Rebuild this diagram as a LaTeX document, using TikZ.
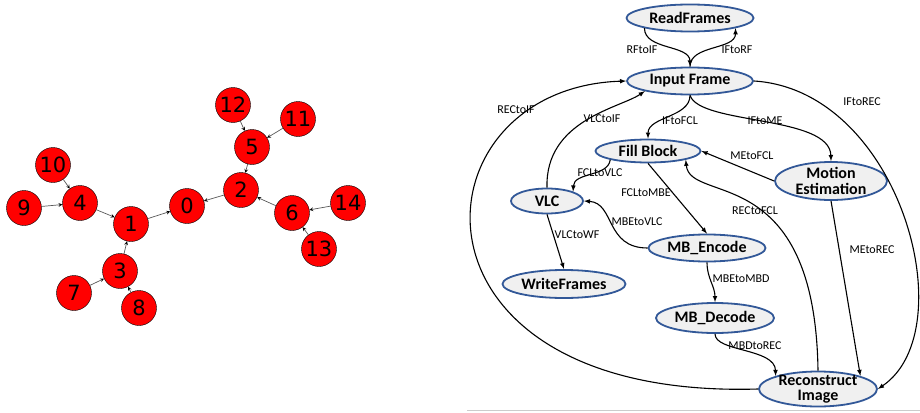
\documentclass[tikz,border=0pt]{standalone}
\usepackage{fontspec}
\setmainfont{Carlito}
\newfontfamily\digitfont{DejaVu Sans}
\usepackage{tikz}
\usetikzlibrary{arrows,shapes.geometric}
\definecolor{taskblue}{RGB}{50,88,152}
\definecolor{taskfill}{RGB}{240,240,240}
\tikzstyle{vertex}=[circle,draw=black,fill=red,minimum size=35pt,inner sep=0pt,
font=\digitfont\fontsize{21}{21}\selectfont]
\tikzstyle{tree}=[->,>=stealth,draw=black!65,line width=0.7pt]
\tikzstyle{task}=[ellipse,draw=taskblue,line width=1.8pt,fill=taskfill,inner sep=0pt,
align=center,font=\bfseries\fontsize{16}{15.5}\selectfont]
\tikzstyle{flow}=[->,>=latex,line width=1.1pt]
\tikzstyle{lbl}=[inner sep=0pt,font=\fontsize{12}{12}\selectfont]

\begin{document}
\begin{tikzpicture}[x=1pt,y=-1pt]
    \useasboundingbox (0,0) rectangle (920,412);
    % left: the tree, every vertex points to its parent
    \node (n0)  [vertex] at (187,206) {0};
    \node (n1)  [vertex] at (131,224) {1};
    \node (n2)  [vertex] at (241,190) {2};
    \node (n3)  [vertex] at (120,271) {3};
    \node (n4)  [vertex] at (80,203)  {4};
    \node (n5)  [vertex] at (252,147) {5};
    \node (n6)  [vertex] at (292,213) {6};
    \node (n7)  [vertex] at (74,293)  {7};
    \node (n8)  [vertex] at (139,308) {8};
    \node (n9)  [vertex] at (24,208)  {9};
    \node (n10) [vertex] at (53,165)  {10};
    \node (n11) [vertex] at (298,119) {11};
    \node (n12) [vertex] at (233,105) {12};
    \node (n13) [vertex] at (319,249) {13};
    \node (n14) [vertex] at (348,203) {14};
    \path[tree]
    (n12) edge (n5)
    (n11) edge (n5)
    (n5)  edge (n2)
    (n6)  edge (n2)
    (n14) edge (n6)
    (n13) edge (n6)
    (n2)  edge (n0)
    (n1)  edge (n0)
    (n4)  edge (n1)
    (n3)  edge (n1)
    (n10) edge (n4)
    (n9)  edge (n4)
    (n7)  edge (n3)
    (n8)  edge (n3);

    % right: the encoder tasks
    \node (rf)  [task,minimum width=127pt,minimum height=27pt] at (690,18)  {ReadFrames};
    \node (ifr) [task,minimum width=126pt,minimum height=27pt] at (690,81)  {Input Frame};
    \node (fcl) [task,minimum width=105pt,minimum height=23pt] at (648,151) {Fill Block};
    \node (me)  [task,minimum width=112pt,minimum height=38pt,inner ysep=-2.5pt] at (831,181) {Motion\\Estimation};
    \node (vlc) [task,minimum width=72pt,minimum height=25pt]  at (547,201) {VLC};
    \node (mbe) [task,minimum width=117pt,minimum height=27pt] at (707,248) {MB\_Encode};
    \node (wf)  [task,minimum width=123pt,minimum height=28pt] at (564,284) {WriteFrames};
    \node (mbd) [task,minimum width=118pt,minimum height=30pt] at (715,318) {MB\_Decode};
    \node (rec) [task,minimum width=118pt,minimum height=35pt,inner ysep=-2.5pt] at (818,389) {Reconstruct\\Image};

    % the channels between them
    \draw[flow] (rf.south west) .. controls +(0,22) and +(0,-22) .. (ifr.north);
    \draw[flow] (ifr.north) .. controls +(0,-22) and +(0,22) .. (rf.south east);
    \draw[flow] (rec.west) .. controls (390,400) and (410,88) .. (ifr.west);
    \draw[flow] (vlc.north) .. controls (545,120) and (620,108) .. (ifr.south west);
    \draw[flow] (ifr.south) .. controls +(0,22) and +(0,-22) .. (fcl.north);
    \draw[flow] (ifr.south) .. controls (700,125) and (830,115) .. (me.north);
    \draw[flow] (ifr.east) .. controls (900,90) and (965,330) .. (rec.east);
    \draw[flow] (me.west) -- (fcl.east);
    \draw[flow] (fcl.south west) .. controls (608,177) and (574,172) .. (vlc.north east);
    \draw[flow] (fcl.south) -- (mbe.north);
    \draw[flow] (mbe.west) .. controls (605,248) and (615,203) .. (vlc.east);
    \draw[flow] (vlc.south) -- (wf.north);
    \draw[flow] (mbe.south) .. controls +(0,16) and +(0,-16) .. (mbd.north);
    \draw[flow] (mbd.south) .. controls (715,352) and (775,348) .. (rec.north west);
    \draw[flow] (me.south) -- (rec.north east);
    \draw[flow] (rec.north) .. controls (815,160) and (690,205) .. (fcl.south east);

    % channel names
    \node (l_rfif)   [lbl] at (642,50)  {RFtoIF};
    \node (l_ifrf)   [lbl] at (737,50)  {IFtoRF};
    \node (l_recif)  [lbl] at (516,110) {RECtoIF};
    \node (l_vlcif)  [lbl] at (602,119) {VLCtoIF};
    \node (l_iffcl)  [lbl] at (680,121) {IFtoFCL};
    \node (l_ifme)   [lbl] at (765,121) {IFtoME};
    \node (l_ifrec)  [lbl] at (862,102) {IFtoREC};
    \node (l_mefcl)  [lbl] at (752,156) {MEtoFCL};
    \node (l_fclvlc) [lbl] at (600,173) {FCLtoVLC};
    \node (l_fclmbe) [lbl] at (646,193) {FCLtoMBE};
    \node (l_recfcl) [lbl] at (755,211) {RECtoFCL};
    \node (l_mbevlc) [lbl] at (637,222) {MBEtoVLC};
    \node (l_vlcwf)  [lbl] at (577,235) {VLCtoWF};
    \node (l_mereec) [lbl] at (872,250) {MEtoREC};
    \node (l_mbembd) [lbl] at (741,279) {MBEtoMBD};
    \node (l_mbdrec) [lbl] at (755,346) {MBDtoREC};

    \draw[black!20,line width=1pt] (467,410) -- (920,410);
\end{tikzpicture}
\end{document}
